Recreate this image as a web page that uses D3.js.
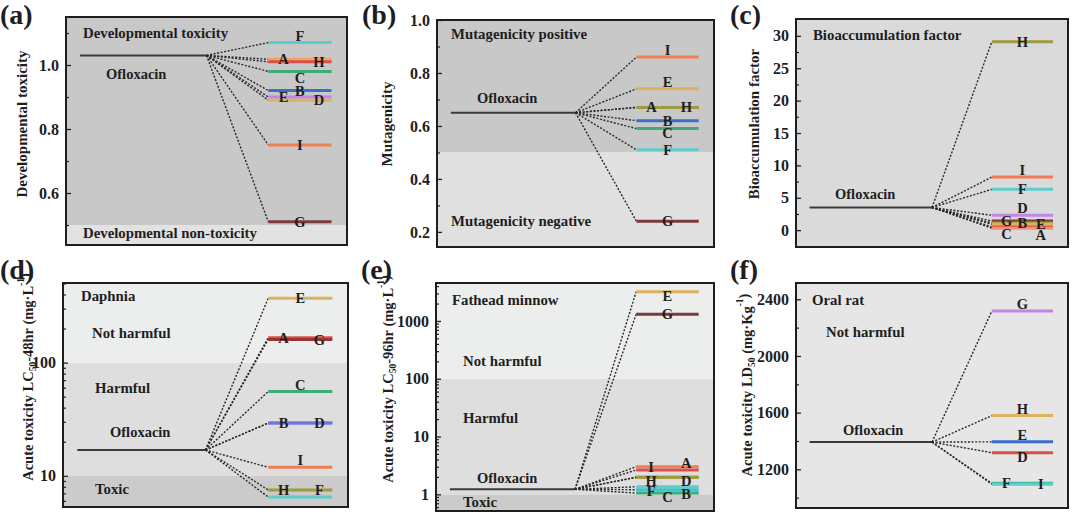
<!DOCTYPE html>
<html><head><meta charset="utf-8">
<script src="https://cdn.jsdelivr.net/npm/d3@7/dist/d3.min.js"></script>
<style>
body{margin:0;background:#fff}
svg{display:block}
text{font-family:"Liberation Serif","Times New Roman",serif;font-weight:bold;fill:#1e1e1e}
</style>
</head><body>
<svg id="chart" width="1080" height="516"></svg>
<script>
// ---------- DATA ----------
// (a) Developmental toxicity
const aLetters = ["F","A","H","C","B","E","D","I","G"];
const aValues  = [1.07,1.018,1.01,0.98,0.92,0.90,0.89,0.75,0.51];
const aOfloxacin = 1.03;
const aTicks = [0.6,0.8,1.0];
const aThresholds = [0.5];

// (b) Mutagenicity
const bLetters = ["I","E","A","H","B","C","F","G"];
const bValues  = [0.86,0.74,0.67,0.67,0.62,0.59,0.51,0.24];
const bOfloxacin = 0.65;
const bTicks = [0.2,0.4,0.6,0.8,1.0];
const bThresholds = [0.5];

// (c) Bioaccumulation factor
const cLetters = ["H","I","F","D","G","B","E","C","A"];
const cValues  = [29.1,8.2,6.3,2.3,1.4,1.1,0.9,0.5,0.3];
const cOfloxacin = 3.5;
const cTicks = [0,5,10,15,20,25,30];

// (d) Acute toxicity LC50-48hr Daphnia
const dLetters = ["E","A","G","C","B","D","I","H","F"];
const dValues  = [370,166,160,55.5,29.2,29.2,11.9,7.5,6.5];
const dOfloxacin = 16.9;
const dTicks = [10,100];
const dThresholds = [10,100];

// (e) Acute toxicity LC50-96hr Fathead minnow
const eLetters = ["E","G","I","A","H","D","F","B","C"];
const eValues  = [3210,1306,3.0,2.63,1.97,1.97,1.35,1.2,1.05];
const eOfloxacin = 1.22;
const eTicks = [1,10,100,1000];
const eThresholds = [1,100];

// (f) Acute toxicity LD50 Oral rat
const fLetters = ["G","H","E","D","F","I"];
const fValues  = [2317,1579,1394,1317,1101,1095];
const fOfloxacin = 1392;
const fTicks = [1200,1600,2000,2400];

// ---------- STYLE ----------
const C = {cyan:"#5ccccc",orange:"#f2a25a",red:"#d9504a",green:"#3fab78",blue:"#3a6fc9",
  purple:"#bf86e6",gold:"#ddb25e",ored:"#f27d52",brown:"#7c3a3a",olive:"#9e9a3e",
  violet:"#8f7fe6",cyan2:"#45c3cc",teal:"#3fb993",salmon:"#f2927a"};
const aColors=[C.cyan,C.orange,C.red,C.green,C.blue,C.purple,C.gold,C.ored,C.brown];
const bColors=[C.ored,C.gold,C.olive,C.olive,C.blue,C.green,C.cyan,C.brown];
const cColors=[C.olive,C.ored,C.cyan,C.purple,C.brown,C.olive,C.gold,C.red,C.salmon];
const dColors=[C.gold,C.red,"#9a3434",C.green,C.violet,"#6f73e0",C.ored,C.olive,C.cyan];
const eColors=[C.gold,C.brown,C.ored,C.red,C.olive,C.olive,C.cyan,C.cyan2,C.green];
const fColors=[C.purple,C.gold,C.blue,C.red,C.teal,C.cyan];
// label placement: horizontal l/c/r + vertical a(above)/o(on)/u(under)/b(below)
const aPos=["ca","lo","ro","cb","co","lo","ro","co","co"];
const bPos=["ca","ca","lo","ro","co","cu","co","co"];
const cPos=["co","ca","co","ca","lo","co","ro","lb","rb"];
const dPos=["co","lo","ro","ca","lo","ro","ca","lo","ra"];
const ePos=["cu","co","lo","ra","lu","ru","lu","ru","cu"];
const fPos=["ca","ca","ca","cu","lo","ro"];
const vOff={a:-2,o:5,u:9,b:12};

const svg = d3.select("#chart");

function panel(p){
  const g = svg.append("g");
  const y = (p.log ? d3.scaleLog() : d3.scaleLinear()).domain(p.domain).range([p.y1,p.y0]);
  const x = d3.scaleLinear().domain([0,1]).range([p.x0,p.x1]);
  const [dmin,dmax] = p.domain;
  // background bands
  const cuts = [dmin, ...(p.thresholds||[]), dmax];
  for(let i=0;i<cuts.length-1;i++){
    g.append("rect").attr("x",p.x0).attr("width",p.x1-p.x0)
      .attr("y",y(cuts[i+1])).attr("height",y(cuts[i])-y(cuts[i+1]))
      .attr("fill",p.fills[i]);
  }
  // axes
  const ax = d3.axisLeft(y).tickValues(p.ticks).tickSize(-5).tickPadding(7)
    .tickFormat(p.fmt);
  const ag = g.append("g").attr("transform",`translate(${p.x0},0)`).call(ax);
  ag.select(".domain").remove();
  ag.selectAll("line").attr("stroke","#222").attr("stroke-width",1.3);
  ag.selectAll("text").attr("font-size",16).attr("fill","#222")
    .style("font-family",'"Liberation Serif",serif').style("font-weight","bold");
  if(p.minor){
    const mg = g.append("g").attr("transform",`translate(${p.x0},0)`)
      .call(d3.axisLeft(y).tickValues(p.minor).tickSize(-3).tickFormat(""));
    mg.select(".domain").remove();
    mg.selectAll("line").attr("stroke","#222").attr("stroke-width",1.2);
  }
  // Ofloxacin
  const xo0=x(0.05), xo1=x(0.5), xs=x(0.72), xe=x(0.945), yo=y(p.ofl);
  g.append("line").attr("x1",xo0).attr("x2",xo1).attr("y1",yo).attr("y2",yo)
    .attr("stroke","#3a3a3a").attr("stroke-width",2);
  // connectors
  g.selectAll(".con").data(p.values).join("line")
    .attr("x1",xo1).attr("y1",yo).attr("x2",xs).attr("y2",d=>y(d))
    .attr("stroke","#2a2a2a").attr("stroke-width",1.4).attr("stroke-dasharray","2,1.6");
  // compound lines
  g.selectAll(".cl").data(p.values).join("line")
    .attr("x1",xs).attr("x2",xe).attr("y1",d=>y(d)).attr("y2",d=>y(d))
    .attr("stroke",(d,i)=>p.colors[i]).attr("stroke-width",3);
  // letters
  const len = xe-xs;
  g.selectAll(".lb").data(p.values).join("text")
    .attr("x",(d,i)=>{const h=p.pos[i][0];return h==="l"?xs+0.24*len:h==="r"?xe-0.2*len:(xs+xe)/2;})
    .attr("y",(d,i)=>y(d)+vOff[p.pos[i][1]])
    .attr("text-anchor","middle").attr("font-size",14.5).text((d,i)=>p.letters[i]);
  // in-plot texts
  p.texts.forEach(t=>{
    g.append("text").attr("x",p.x0+t[1]).attr("y",t[2]).attr("font-size",t[3]||14.8).text(t[0]);
  });
  // frame
  g.append("rect").attr("x",p.x0).attr("y",p.y0).attr("width",p.x1-p.x0).attr("height",p.y1-p.y0)
    .attr("fill","none").attr("stroke","#1e1e1e").attr("stroke-width",2);
  // y title
  const tt = g.append("text").attr("text-anchor","middle").attr("font-size",p.tsize||15)
    .attr("transform",`translate(${p.tx},${p.ty}) rotate(-90)`);
  p.title.forEach(part=>{
    const s = tt.append("tspan").text(part[0]);
    if(part[1]==="sub") s.attr("font-size",9.5).attr("dy",3);
    else if(part[1]==="sup") s.attr("font-size",9.5).attr("dy",-9);
    else if(part[1]==="afterSub") s.attr("dy",-3);
    else if(part[1]==="afterSup") s.attr("dy",6);
  });
  // panel label
  g.append("text").attr("x",p.lx).attr("y",p.ly).attr("font-size",28).text(p.label);
}

function logMinor(dom){
  const out=[];
  for(let e=-1;e<=4;e++) for(let k=2;k<=9;k++){const v=k*Math.pow(10,e); if(v>dom[0]&&v<dom[1]) out.push(v);}
  return out;
}

panel({label:"(a)",lx:0,ly:24,x0:66,x1:347,y0:17,y1:245,domain:[0.4375,1.15],
  ticks:aTicks,minor:[0.5,0.7,0.9,1.1],fmt:d3.format(".1f"),thresholds:aThresholds,
  fills:["#e2e2e2","#c8c8c8"],ofl:aOfloxacin,values:aValues,letters:aLetters,colors:aColors,pos:aPos,
  texts:[["Developmental toxicity",17,38],["Ofloxacin",40,79,14.5],["Developmental non-toxicity",17,238]],
  tx:27,ty:124,title:[["Developmental toxicity"]]});

panel({label:"(b)",lx:362,ly:24,x0:437,x1:714,y0:20,y1:247,domain:[0.143,1.0],
  ticks:bTicks,minor:[0.3,0.5,0.7,0.9],fmt:d3.format(".1f"),thresholds:bThresholds,
  fills:["#e0e0e0","#c8c8c8"],ofl:bOfloxacin,values:bValues,letters:bLetters,colors:bColors,pos:bPos,
  texts:[["Mutagenicity positive",14,39],["Ofloxacin",40,103,14.5],["Mutagenicity negative",14,226]],
  tx:392,ty:124,title:[["Mutagenicity"]]});

panel({label:"(c)",lx:730,ly:24,x0:796,x1:1068,y0:19,y1:247,domain:[-2.6,32.6],
  ticks:cTicks,minor:[2.5,7.5,12.5,17.5,22.5,27.5],fmt:d3.format("d"),
  fills:["#dadada"],ofl:cOfloxacin,values:cValues,letters:cLetters,colors:cColors,pos:cPos,
  texts:[["Bioaccumulation factor",17,40],["Ofloxacin",39,199,14.5]],
  tx:759,ty:124,title:[["Bioaccumulation factor"]]});

panel({label:"(d)",lx:0,ly:279,x0:63,x1:348,y0:283,y1:507,domain:[5.3,505],log:true,
  ticks:dTicks,minor:logMinor([5.3,505]),fmt:d3.format("d"),thresholds:dThresholds,
  fills:["#cbcbcb","#dedede","#eceeee"],ofl:dOfloxacin,values:dValues,letters:dLetters,colors:dColors,pos:dPos,
  texts:[["Daphnia",18,301],["Not harmful",29,338],["Harmful",32,393],["Ofloxacin",47,437,14.5],["Toxic",32,494]],
  tx:33,ty:377,tsize:14.5,title:[["Acute toxicity LC"],["50","sub"],["-48hr (mg·L","afterSub"],["-1","sup"],[")","afterSup"]]});

panel({label:"(e)",lx:361,ly:279,x0:436,x1:714,y0:283,y1:511,domain:[0.514,4540],log:true,
  ticks:eTicks,minor:logMinor([0.514,4540]),fmt:d3.format("d"),thresholds:eThresholds,
  fills:["#cbcbcb","#dedede","#eceeee"],ofl:eOfloxacin,values:eValues,letters:eLetters,colors:eColors,pos:ePos,
  texts:[["Fathead minnow",16,305],["Not harmful",27,366],["Harmful",27,423],["Ofloxacin",41,483,14.5],["Toxic",27,507]],
  tx:393,ty:379,tsize:14.5,title:[["Acute toxicity LC"],["50","sub"],["-96hr (mg·L","afterSub"],["-1","sup"],[")","afterSup"]]});

panel({label:"(f)",lx:730,ly:279,x0:796,x1:1068,y0:283,y1:508,domain:[927,2515],
  ticks:fTicks,minor:[1000,1400,1800,2200],fmt:d3.format("d"),
  fills:["#e6e6e6"],ofl:fOfloxacin,values:fValues,letters:fLetters,colors:fColors,pos:fPos,
  texts:[["Oral rat",16,305],["Not harmful",30,337],["Ofloxacin",47,435,14.5]],
  tx:752,ty:385,tsize:14.5,title:[["Acute toxicity LD"],["50","sub"],[" (mg·Kg","afterSub"],["-1","sup"],[")","afterSup"]]});
</script>
</body></html>
